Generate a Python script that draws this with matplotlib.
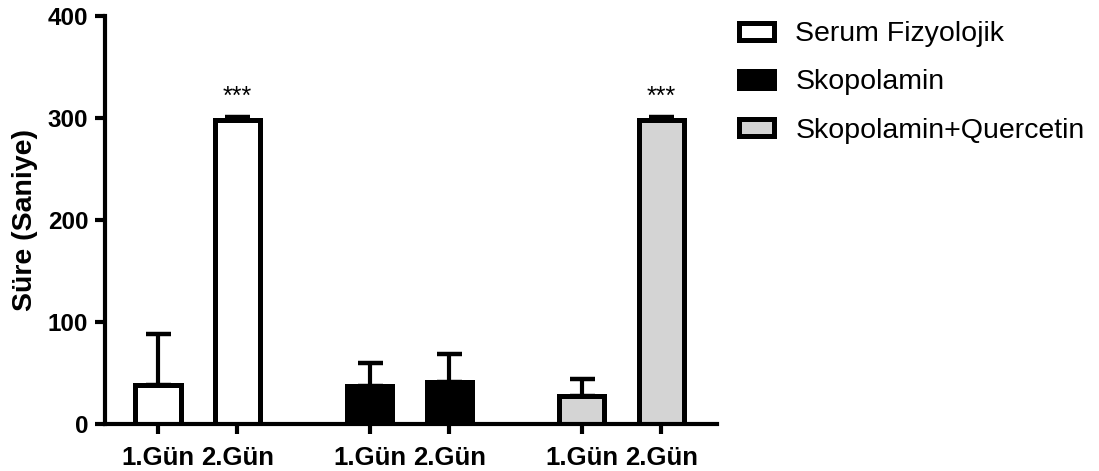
import matplotlib
matplotlib.use("Agg")
import matplotlib.pyplot as plt
from matplotlib.patches import Patch

plt.rcParams['font.family'] = ['Liberation Sans', 'DejaVu Sans']

# ---- data ----
groups = ["Serum Fizyolojik", "Skopolamin", "Skopolamin+Quercetin"]
day_labels = ["1.Gün", "2.Gün"]
means_sf = [38, 298]
err_sf = [50, 2.5]
means_sk = [37, 41]
err_sk = [23, 28]
means_sq = [27, 298]
err_sq = [17, 2.5]
sig_labels = ["", "***", "", "", "", "***"]
y_label = "Süre (Saniye)"
y_ticks = [0, 100, 200, 300, 400]

# ---- layout / style ----
fills = ["white", "black", "#d4d4d4"]
group_starts = [0.0, 8 / 3, 16 / 3]
bar_w = 0.57
lw = 3.6

fig = plt.figure(figsize=(10.99, 4.71), dpi=100)
ax = fig.add_axes([0.0955, 0.0998, 0.652 - 0.0955, 0.9667 - 0.0998])

all_means = [means_sf, means_sk, means_sq]
all_errs = [err_sf, err_sk, err_sq]
positions = []
for gi, (m, e) in enumerate(zip(all_means, all_errs)):
    xs = [group_starts[gi] + k for k in range(len(m))]
    positions += xs
    # error bars (upper only), drawn under bars
    ax.errorbar(xs, m, yerr=[[0] * len(e), e], fmt='none', ecolor='black',
                elinewidth=3.0, capsize=9.0, capthick=3.2, zorder=1)
    ax.bar(xs, m, width=bar_w, color=fills[gi], edgecolor='black',
           linewidth=lw, zorder=2, label=groups[gi])

all_m_flat = means_sf + means_sk + means_sq
all_e_flat = err_sf + err_sk + err_sq
for x, m, e, s in zip(positions, all_m_flat, all_e_flat, sig_labels):
    if s:
        ax.text(x, m + e + 8, s, ha='center', va='bottom', fontsize=18)

ax.set_xlim(-0.667, 7.03)
ax.set_ylim(0, 400)
ax.set_yticks(y_ticks)
ax.set_xticks(positions)
ax.set_xticklabels(day_labels * 3)
for sp in ['top', 'right']:
    ax.spines[sp].set_visible(False)
for sp in ['left', 'bottom']:
    ax.spines[sp].set_linewidth(3.0)
ax.tick_params(axis='both', width=3.0, length=7)
ax.tick_params(axis='y', pad=5, labelsize=17.5)
ax.tick_params(axis='x', pad=9, labelsize=18.5)
for t in ax.get_xticklabels() + ax.get_yticklabels():
    t.set_fontweight('bold')
ax.set_ylabel(y_label, fontsize=20.5, fontweight='bold')
ax.yaxis.set_label_coords(-0.11, 0.5)

handles = [Patch(facecolor=fills[i], edgecolor='black', linewidth=lw, label=groups[i])
           for i in range(3)]
fig.legend(handles=handles, loc='upper left', bbox_to_anchor=(0.672, 0.955),
           frameon=False, fontsize=20.5, handlelength=1.25, handleheight=0.55,
           handletextpad=0.75, labelspacing=0.78, borderpad=0, borderaxespad=0)

fig.savefig("out.png", dpi=100)
